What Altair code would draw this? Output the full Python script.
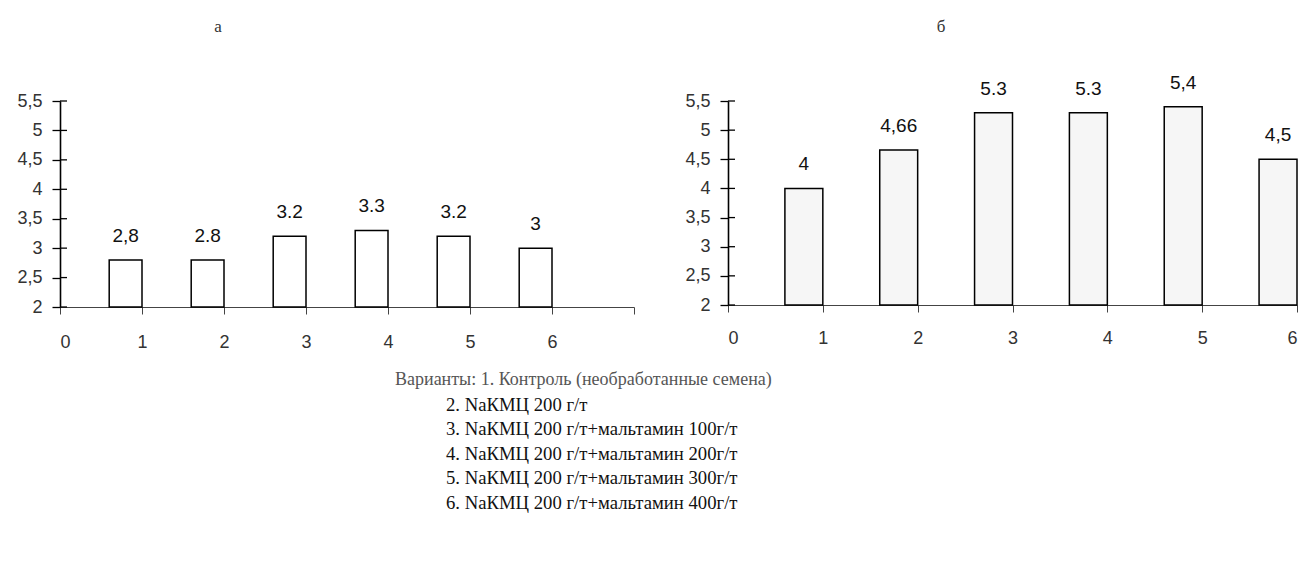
import altair as alt
import pandas as pd

variants = [1, 2, 3, 4, 5, 6]
a_values = [2.8, 2.8, 3.2, 3.3, 3.2, 3.0]
a_labels = ["2,8", "2.8", "3.2", "3.3", "3.2", "3"]
b_values = [4.0, 4.66, 5.3, 5.3, 5.4, 4.5]
b_labels = ["4", "4,66", "5.3", "5.3", "5,4", "4,5"]
y_ticks = [2, 2.5, 3, 3.5, 4, 4.5, 5, 5.5]
caption_first = "Варианты: 1. Контроль (необработанные семена)"
caption_lines = [
    "2. NaКМЦ 200 г/т",
    "3. NaКМЦ 200 г/т+мальтамин 100г/т",
    "4. NaКМЦ 200 г/т+мальтамин 200г/т",
    "5. NaКМЦ 200 г/т+мальтамин 300г/т",
    "6. NaКМЦ 200 г/т+мальтамин 400г/т",
]

SANS = "Liberation Sans"
SERIF = "Liberation Serif"


def panel(values, labels, x_max, width, height, title, title_dx, fill, label_pad):
    df = pd.DataFrame({"variant": variants, "value": values, "label": labels})
    df["x0"] = df["variant"] - 0.4
    df["xc"] = df["variant"] - 0.2
    ticks = pd.DataFrame({"t": y_ticks})
    tdf = pd.DataFrame({"title": [title]})

    xscale = alt.Scale(domain=[0, x_max], nice=False, zero=False)
    yscale = alt.Scale(domain=[2, 5.5], nice=False, zero=False)

    xaxis = alt.Axis(
        values=list(range(0, x_max + 1)),
        labelExpr="datum.value > 6 ? '' : format(datum.value, 'd')",
        grid=False, tickSize=7, labelPadding=label_pad,
        domainColor="#444", tickColor="#444", domainWidth=1.2,
        labelFontSize=18, labelColor="#333", labelFont=SANS, title=None,
        labelOverlap=False,
    )
    yaxis = alt.Axis(
        values=y_ticks,
        labelExpr="replace(format(datum.value, '~g'), '.', ',')",
        grid=False, tickSize=8, labelPadding=10,
        domainColor="#000", tickColor="#000", domainWidth=1.6, tickWidth=1.3,
        labelFontSize=18, labelColor="#333", labelFont=SANS, title=None,
        minExtent=49, maxExtent=49, labelOverlap=False,
    )

    base = alt.Chart(df)
    bars = base.mark_bar(fill=fill, stroke="#000", strokeWidth=1.5).encode(
        x=alt.X("x0:Q", scale=xscale, axis=xaxis),
        x2="variant:Q",
        y=alt.Y("value:Q", scale=yscale, axis=yaxis),
        y2=alt.datum(2),
    )
    text = base.mark_text(
        dy=-24, baseline="middle", align="center", font=SANS, fontSize=19, color="#111"
    ).encode(
        x=alt.X("xc:Q", scale=xscale, axis=xaxis),
        y=alt.Y("value:Q", scale=yscale, axis=yaxis),
        text="label:N",
    )
    inner = alt.Chart(ticks).mark_rule(color="#000", strokeWidth=1.3).encode(
        y=alt.Y("t:Q", scale=yscale, axis=yaxis),
        x=alt.value(0),
        x2=alt.value(7),
    )
    head = alt.Chart(tdf).mark_text(
        align="center", baseline="middle", font=SERIF, fontSize=17, color="#333"
    ).encode(x=alt.value(title_dx), y=alt.value(-74), text="title:N")
    return alt.layer(bars, inner, text, head).properties(width=width, height=height)


left = panel(a_values, a_labels, 7, 574, 206, "а", 158, "#ffffff", 19)
right = panel(b_values, b_labels, 6, 569, 204, "б", 213, "#f6f6f6", 17)

top = alt.hconcat(left, right, spacing=44)

cap_df = pd.DataFrame({"idx": list(range(1, len(caption_lines) + 1)), "line": caption_lines})
first_df = pd.DataFrame({"idx": [0], "line": [caption_first]})
cy = alt.Scale(domain=[-0.5, 5.5], nice=False, zero=False, reverse=True)
cap1 = alt.Chart(first_df).mark_text(
    align="left", baseline="middle", font=SERIF, fontSize=18, color="#555"
).encode(x=alt.value(335), y=alt.Y("idx:Q", scale=cy, axis=None), text="line:N")
cap2 = alt.Chart(cap_df).mark_text(
    align="left", baseline="middle", font=SERIF, fontSize=18.7, color="#111"
).encode(x=alt.value(386), y=alt.Y("idx:Q", scale=cy, axis=None), text="line:N")
caption = alt.layer(cap1, cap2).properties(width=800, height=147)

chart = alt.vconcat(top, caption, spacing=17).properties(
    padding={"left": 3, "top": 10, "right": 5, "bottom": 0}
).configure_view(stroke=None)

chart.save("out.html", embed_options={"renderer": "svg", "actions": False})
